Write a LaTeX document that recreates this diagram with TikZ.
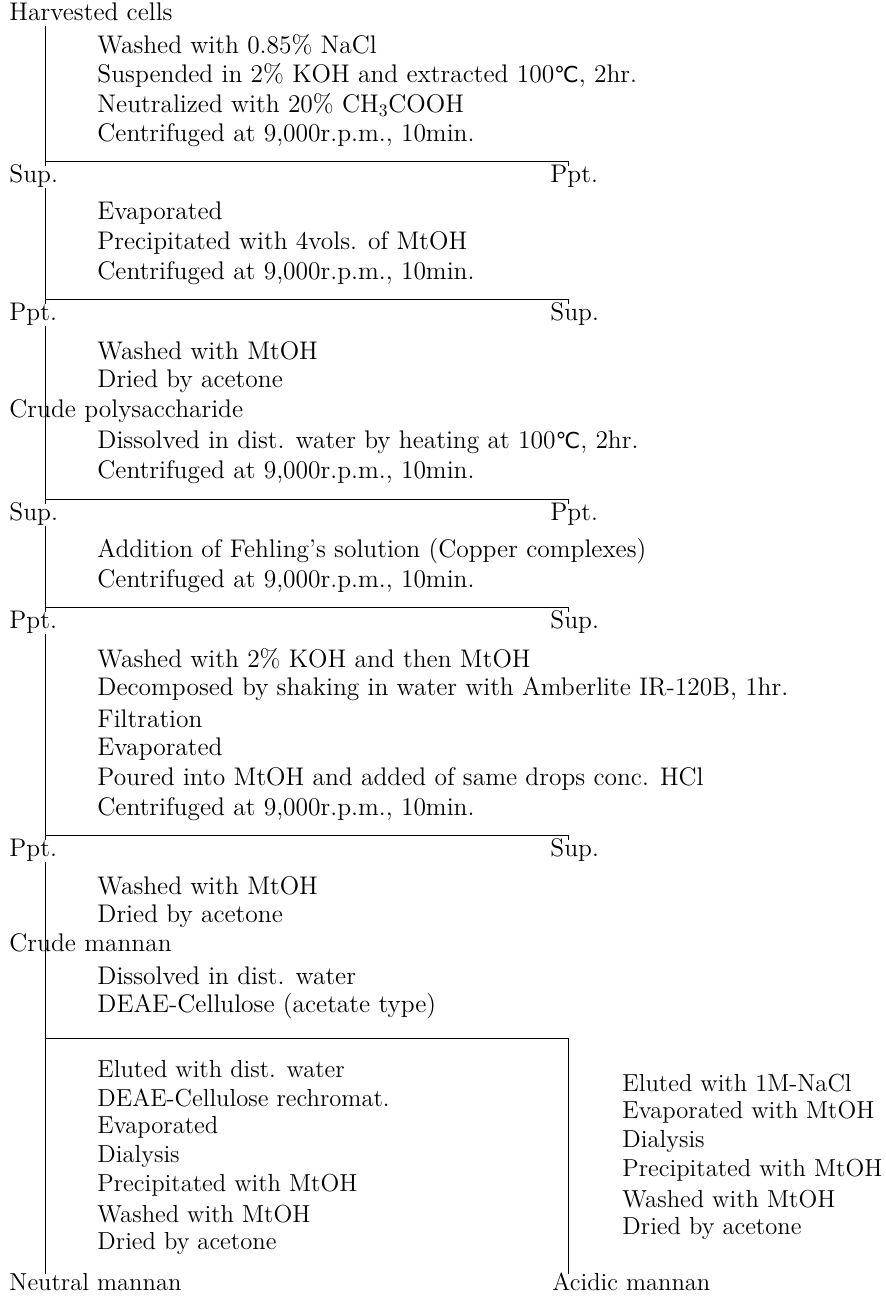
\documentclass[tikz,border=0pt]{standalone}
\usepackage{fontspec}
\newfontfamily\degfont{DejaVu Sans}
\newcommand{\dgC}{{\degfont\fontsize{12.5}{14}\selectfont ℃}}

\begin{document}
\begin{tikzpicture}[x=0.02cm, y=-0.02cm, line width=0.55pt,
	txt/.style={font=\fontsize{14.5}{16}\selectfont, inner sep=0pt, anchor=west},
	low/.style={txt, font=\fontsize{14}{16}\selectfont},
	lab/.style={txt, text height=9pt, text depth=3pt}]
	\useasboundingbox (0,0) rectangle (886,1299);
	\coordinate (stem) at (45,0);
	\coordinate (tick) at (568,0);

	% fractions
	\node[lab] (hc) at (9,15) {Harvested cells};
	\node[lab] (sup1) at (9,177) {Sup.};
	\node[lab] (ppt1) at (550,177) {Ppt.};
	\node[lab] (ppt2) at (9,315) {Ppt.};
	\node[lab] (sup2) at (550,315) {Sup.};
	\node[lab] (cp) at (9,412) {Crude polysaccharide};
	\node[lab] (sup3) at (9,515) {Sup.};
	\node[lab] (ppt3) at (550,515) {Ppt.};
	\node[lab] (ppt4) at (9,623) {Ppt.};
	\node[lab] (sup4) at (550,623) {Sup.};
	\node[lab] (ppt5) at (9,851) {Ppt.};
	\node[lab] (sup5) at (550,851) {Sup.};
	\node[lab] (cm) at (9,946) {Crude mannan};
	\node[lab, low] (nm) at (9,1285) {Neutral mannan};
	\node[lab, low] (am) at (552,1285) {Acidic mannan};

	% treatments
	\foreach \t [count=\i] in {Washed with 0.85\% NaCl, {Suspended in 2\% KOH and extracted 100\dgC, 2hr.}, Neutralized with 20\% CH$_3$COOH, {Centrifuged at 9,000r.p.m., 10min.}}
		\node[txt] (s1-\i) at (97,15+30*\i) {\t};
	\foreach \t [count=\i] in {Evaporated, Precipitated with 4vols. of MtOH, {Centrifuged at 9,000r.p.m., 10min.}}
		\node[txt] (s2-\i) at (97,183+30*\i) {\t};
	\foreach \t [count=\i] in {Washed with MtOH, Dried by acetone}
		\node[txt] (s3-\i) at (97,321+30*\i) {\t};
	\foreach \t [count=\i] in {{Dissolved in dist. water by heating at 100\dgC, 2hr.}, {Centrifuged at 9,000r.p.m., 10min.}}
		\node[txt] (s4-\i) at (97,412+30*\i) {\t};
	\foreach \t [count=\i] in {Addition of Fehling's solution (Copper complexes), {Centrifuged at 9,000r.p.m., 10min.}}
		\node[txt] (s5-\i) at (97,521+30*\i) {\t};
	\foreach \t [count=\i] in {Washed with 2\% KOH and then MtOH, {Decomposed by shaking in water with Amberlite IR-120B, 1hr.}, Filtration, Evaporated, Poured into MtOH and added of same drops conc. HCl, {Centrifuged at 9,000r.p.m., 10min.}}
		\node[txt] (s6-\i) at (97,629+30*\i) {\t};
	\foreach \t [count=\i] in {Washed with MtOH, Dried by acetone}
		\node[txt] (s7-\i) at (97,856+30*\i) {\t};
	\foreach \t [count=\i] in {Dissolved in dist. water, DEAE-Cellulose (acetate type)}
		\node[txt] (s8-\i) at (97,946+30*\i) {\t};
	\foreach \t [count=\i] in {Eluted with dist. water, DEAE-Cellulose rechromat., Evaporated, Dialysis, Precipitated with MtOH, Washed with MtOH, Dried by acetone}
		\node[low] (n-\i) at (97,1040+29*\i) {\t};
	\foreach \t [count=\i] in {Eluted with 1M-NaCl, Evaporated with MtOH, Dialysis, Precipitated with MtOH, Washed with MtOH, Dried by acetone}
		\node[low] (a-\i) at (622,1054.5+29*\i) {\t};

	% separations
	\coordinate (b1) at (45,161);
	\coordinate (b2) at (45,299);
	\coordinate (b3) at (45,499);
	\coordinate (b4) at (45,607);
	\coordinate (b5) at (45,835);
	\coordinate (b6) at (45,1038);
	\draw (hc.south-|stem) -- (sup1.north-|stem);
	\draw (b1) -| (ppt1.north-|tick);
	\draw (sup1.south-|stem) -- (ppt2.north-|stem);
	\draw (b2) -| (sup2.north-|tick);
	\draw (ppt2.south-|stem) -- (sup3.north-|stem);
	\draw (b3) -| (ppt3.north-|tick);
	\draw (sup3.south-|stem) -- (ppt4.north-|stem);
	\draw (b4) -| (sup4.north-|tick);
	\draw (ppt4.south-|stem) -- (ppt5.north-|stem);
	\draw (b5) -| (sup5.north-|tick);
	\draw (ppt5.south-|stem) -- (nm.north-|stem);
	\draw (b6) -| (am.north-|tick);
\end{tikzpicture}
\end{document}
